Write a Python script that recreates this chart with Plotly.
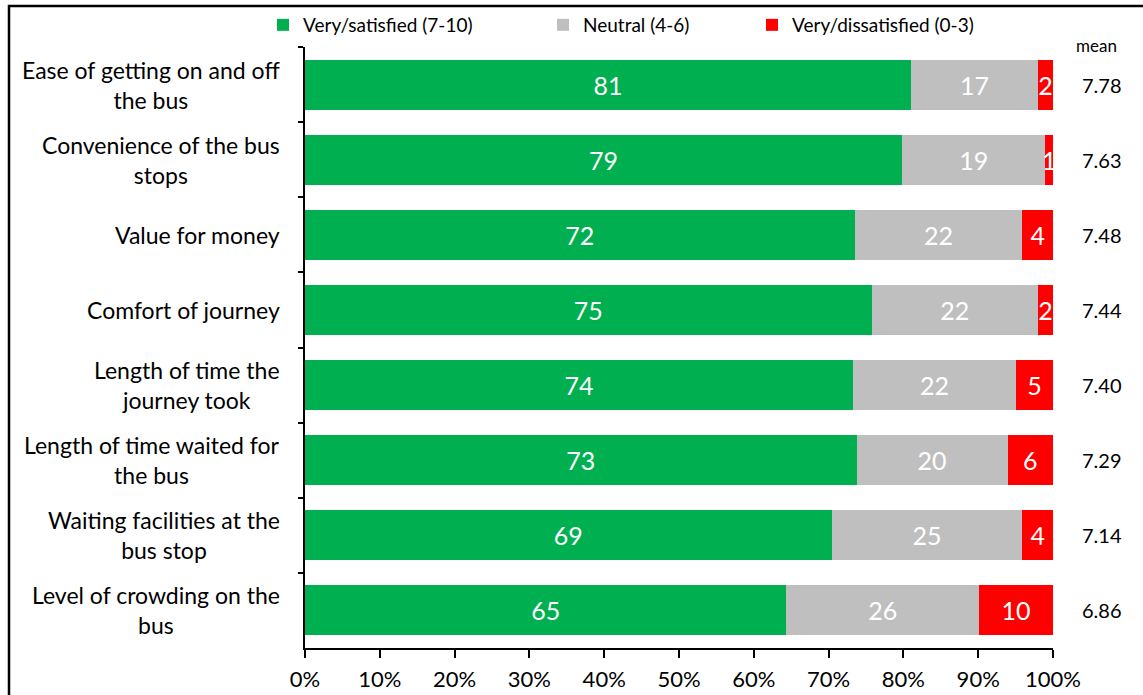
import plotly.graph_objects as go

# Survey aspects (top to bottom) and satisfaction shares (%)
categories = [
    "Ease of getting on and off<br>the bus",
    "Convenience of the bus<br>stops",
    "Value for money",
    "Comfort of journey",
    "Length of time the<br>journey took",
    "Length of time waited for<br>the bus",
    "Waiting facilities at the<br>bus stop",
    "Level of crowding on the<br>bus",
]
satisfied = [81, 79, 72, 75, 74, 73, 69, 65]
neutral = [17, 19, 22, 22, 22, 20, 25, 26]
dissatisfied = [2, 1, 4, 2, 5, 6, 4, 10]
means = [7.78, 7.63, 7.48, 7.44, 7.40, 7.29, 7.14, 6.86]
x_ticks = [0, 10, 20, 30, 40, 50, 60, 70, 80, 90, 100]
x_tick_labels = [f"{t}%" for t in x_ticks]

series_names = ["Very/satisfied (7-10)", "Neutral (4-6)", "Very/dissatisfied (0-3)"]
series_values = [satisfied, neutral, dissatisfied]
series_colors = ["#00B050", "#BFBFBF", "#FF0000"]
legend_ids = ["legend", "legend2", "legend3"]

FONT = "Lato, Carlito, Calibri, sans-serif"
W, H = 1143, 695
ML, MR, MT, MB = 305, 90, 47, 47
PW, PH = W - ML - MR, H - MT - MB


def px_to_paper_x(px):
    return (px - ML) / PW


def px_to_paper_y(py):
    return (H - MB - py) / PH


fig = go.Figure()
for name, vals, color, lg in zip(series_names, series_values, series_colors, legend_ids):
    fig.add_trace(go.Bar(
        y=categories,
        x=vals,
        orientation="h",
        name=name,
        legend=lg,
        marker=dict(color=color, line=dict(width=0)),
        text=[str(v) for v in vals],
        textposition="inside",
        insidetextanchor="middle",
        textangle=0,
        constraintext="none",
        textfont=dict(family=FONT, size=25, color="white"),
        hoverinfo="skip",
    ))

annotations = []
# Category labels, centred text block right-aligned against the axis
for cat in categories:
    annotations.append(dict(
        xref="paper", yref="y", x=0, y=cat, xanchor="right", yanchor="middle",
        xshift=-23, align="center", text=cat, showarrow=False,
        font=dict(family=FONT, size=23, color="black"),
    ))
# Mean scores column
for cat, m in zip(categories, means):
    annotations.append(dict(
        xref="paper", yref="y", x=px_to_paper_x(1102), y=cat, xanchor="center",
        yanchor="middle", text=f"{m:.2f}", showarrow=False,
        font=dict(family=FONT, size=20, color="black"),
    ))
annotations.append(dict(
    xref="paper", yref="paper", x=px_to_paper_x(1096), y=px_to_paper_y(45),
    xanchor="center", yanchor="middle", text="mean", showarrow=False,
    font=dict(family=FONT, size=17, color="black"),
))

legend_style = dict(
    orientation="h", xref="container", yref="container", yanchor="middle",
    xanchor="left", y=1 - 25 / H, bgcolor="rgba(0,0,0,0)",
    font=dict(family=FONT, size=19, color="black"),
)

fig.update_layout(
    width=W, height=H,
    margin=dict(l=ML, r=MR, t=MT, b=MB, pad=0, autoexpand=False),
    barmode="stack", barnorm="percent", bargap=0.333,
    plot_bgcolor="white", paper_bgcolor="white",
    font=dict(family=FONT, color="black"),
    showlegend=True,
    legend=dict(legend_style, x=263 / W),
    legend2=dict(legend_style, x=543 / W),
    legend3=dict(legend_style, x=752 / W),
    xaxis=dict(
        range=[0, 100], tickmode="array", tickvals=x_ticks, ticktext=x_tick_labels,
        showgrid=False, zeroline=False, showline=True, linecolor="black",
        linewidth=2, ticks="outside", ticklen=8, tickwidth=1.5, tickcolor="black",
        ticklabelstandoff=3,
        tickfont=dict(family=FONT, size=22, color="black"),
    ),
    yaxis=dict(
        type="category", autorange="reversed", showticklabels=False,
        showgrid=False, zeroline=False, showline=True, linecolor="black",
        linewidth=2, ticks="outside", tickson="boundaries", ticklen=5,
        tickwidth=1.5, tickcolor="black",
    ),
    annotations=annotations,
    shapes=[dict(
        type="rect", xref="paper", yref="paper",
        x0=px_to_paper_x(9), x1=px_to_paper_x(1160),
        y0=px_to_paper_y(720), y1=px_to_paper_y(6),
        line=dict(color="black", width=2.5), fillcolor="rgba(0,0,0,0)",
        layer="above",
    )],
)

fig.write_html("out.html")
